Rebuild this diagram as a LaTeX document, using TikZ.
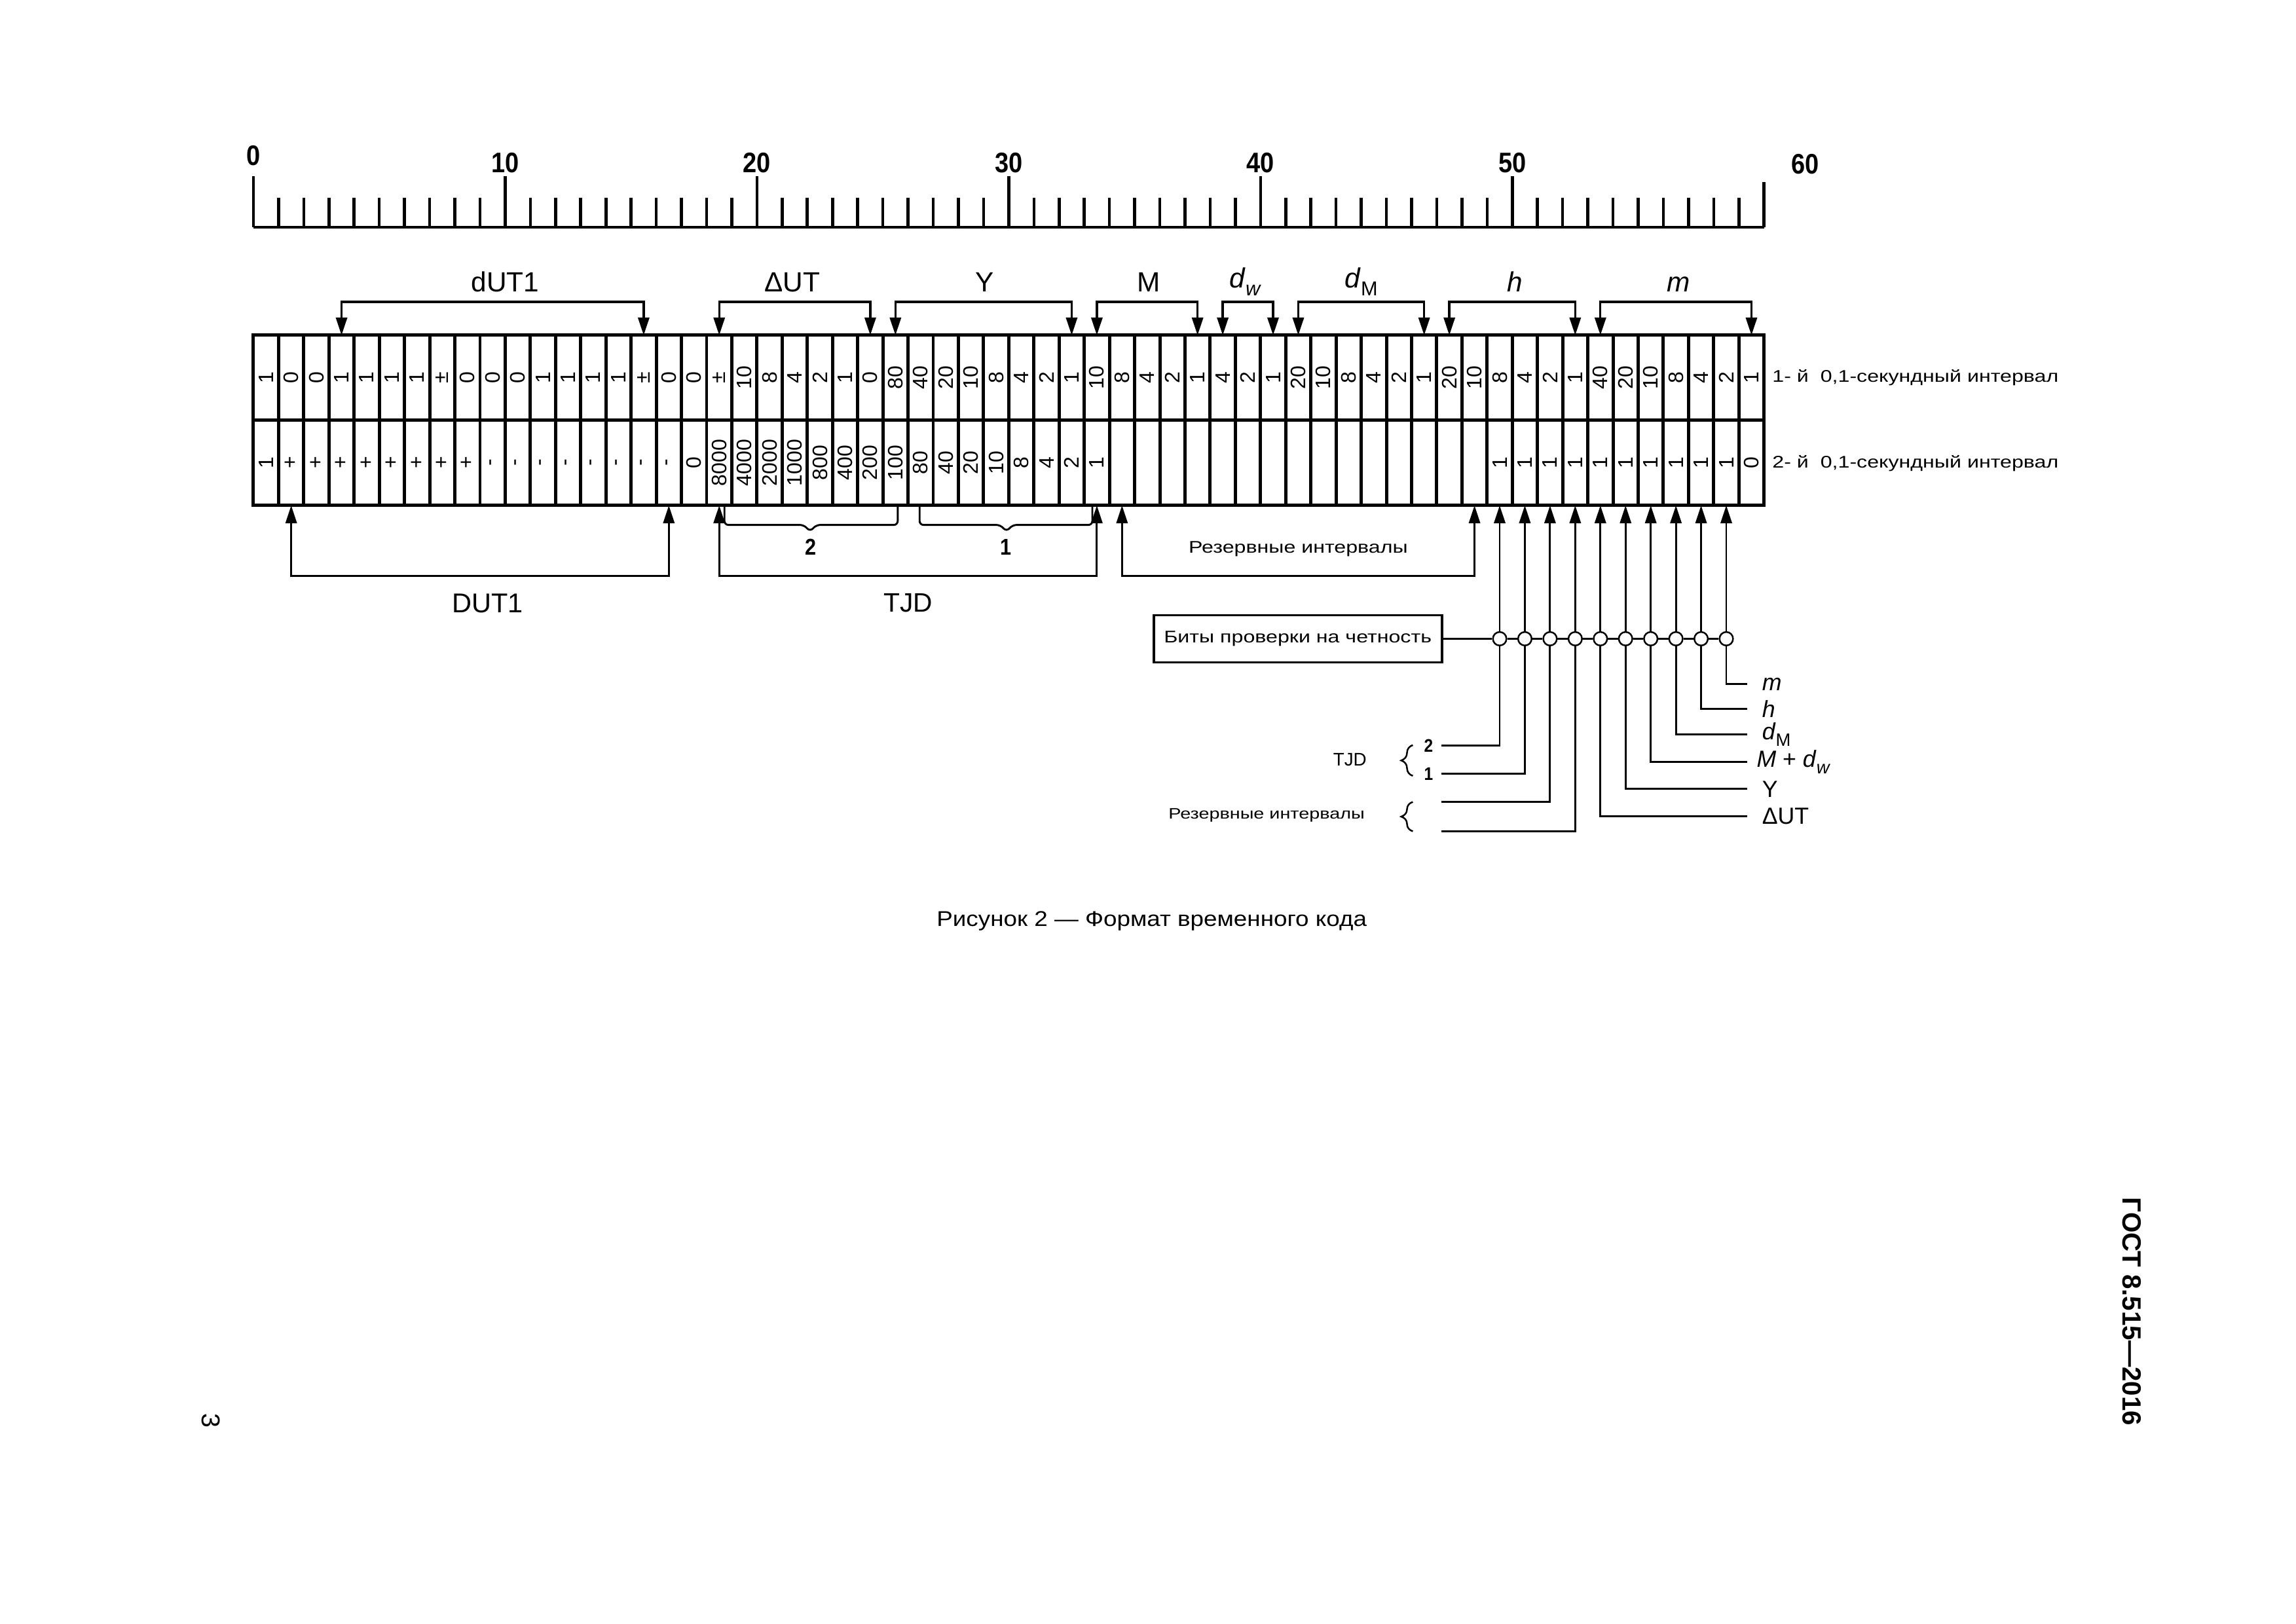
\documentclass[tikz,border=0pt]{standalone}
\usepackage{fontspec}
\setmainfont{Liberation Sans}
\newfontfamily\widefont[FakeStretch=1.25]{Liberation Sans}
\newfontfamily\capfont[FakeStretch=1.13]{Liberation Sans}
\newfontfamily\narrowfont[FakeStretch=0.88]{Liberation Sans}
\usetikzlibrary{positioning,arrows.meta,decorations.pathreplacing}
\newcommand{\setfs}[1]{\fontsize{#1}{#1}\selectfont}
\newcommand{\lowsub}[2]{\raisebox{-0.55ex}{\setfs{#1}#2}}

\begin{document}
\begin{tikzpicture}[x=3.2555mm,y=-1mm,
		>={Triangle[length=2.3mm,width=1.45mm]},
		tbl/.style={line width=1.2pt},
		brk/.style={line width=0.8pt,<->},
		lowbrk/.style={line width=0.7pt,<->},
		cell/.style={rotate=90,font=\setfs{7.7}},
		lbl/.style={anchor=base,font=\setfs{10.2}},
		tick/.style={line width=1.1pt},
		num/.style={anchor=south,font=\narrowfont\bfseries\setfs{10.4}},
		ring/.style={circle,draw,fill=white,line width=0.6pt,minimum size=1.75mm},
		lead/.style={line width=0.7pt},
		wide/.style={font=\widefont\setfs{6.2}}]
		\tikzstyle{every node}+=[inner sep=0pt]
		\useasboundingbox (-10.066,0) rectangle (81.13,210);
		\draw [tick] (0,29.4) -- (60,29.4);
		\foreach \i in {1,...,59}
			\draw [tick] (\i,29.4) -- (\i,25.6);
		\foreach \i in {0,10,...,50}
			\draw [tick] (\i,29.4) -- (\i,22.8);
		\draw [tick] (60,29.4) -- (60,23.5);
		\node [num] (s0) at (0,21.5) {0};
		\foreach \n in {10,20,...,50}
			\node [num] (s\n) at (\n,22.4) {\n};
		\node [num] (s60) at (61.64,22.6) {60};
		\coordinate (top) at (0,43.35);
		\coordinate (mid) at (0,54.31);
		\coordinate (bot) at (0,65.36);
		\draw [tbl] (top) rectangle (60,65.36);
		\draw [tbl] (mid) -- (60,54.31);
		\foreach \i in {1,...,59}
			\draw [tbl] (\i,43.35) -- (\i,65.36);
		\foreach \v [count=\i] in {1,0,0,1,1,1,1,±,0,0,0,1,1,1,1,±,0,0,±,10,8,4,2,1,0,80,40,20,10,8,4,2,1,10,8,4,2,1,4,2,1,20,10,8,4,2,1,20,10,8,4,2,1,40,20,10,8,4,2,1}
			\node [cell] (a\i) at (\i-0.5,48.83) {\v};
		\foreach \v [count=\i] in {1,+,+,+,+,+,+,+,+,-,-,-,-,-,-,-,-,0,8000,4000,2000,1000,800,400,200,100,80,40,20,10,8,4,2,1}
			\node [cell] (b\i) at (\i-0.5,59.84) {\v};
		\foreach \v [count=\i from 50] in {1,1,1,1,1,1,1,1,1,1,0}
			\node [cell] (b\i) at (\i-0.5,59.84) {\v};
		\node [wide,anchor=west] (row1) at (60.31,48.83) {1- й~~0,1-секундный интервал};
		\node [wide,anchor=west] (row2) at (60.31,59.9) {2- й~~0,1-секундный интервал};
		\draw [brk] (a4 |- top) -- ++(0,-4.32) -| (a16 |- top);
		\node [lbl] (tdut) at (10,37.7) {dUT1};
		\draw [brk] (a19 |- top) -- ++(0,-4.32) -| (a25 |- top);
		\node [lbl] (tdelta) at (21.4,37.7) {ΔUT};
		\draw [brk] (a26 |- top) -- ++(0,-4.32) -| (a33 |- top);
		\node [lbl] (tyear) at (29.05,37.7) {Y};
		\draw [brk] (a34 |- top) -- ++(0,-4.32) -| (a38 |- top);
		\node [lbl] (tmonth) at (35.55,37.7) {M};
		\draw [brk] (a39 |- top) -- ++(0,-4.32) -| (a41 |- top);
		\node [lbl] (tdw) at (39.4,37.2) {\textit{d}\lowsub{7.4}{\textit{w}}};
		\draw [brk] (a42 |- top) -- ++(0,-4.32) -| (a47 |- top);
		\node [lbl] (tdm) at (44.0,37.2) {\textit{d}\lowsub{7.4}{M}};
		\draw [brk] (a48 |- top) -- ++(0,-4.32) -| (a53 |- top);
		\node [lbl] (thour) at (50.1,37.7) {\textit{h}};
		\draw [brk] (a54 |- top) -- ++(0,-4.32) -| (a60 |- top);
		\node [lbl] (tmin) at (56.6,37.7) {\textit{m}};
		\draw [lowbrk] (a2 |- bot) -- ++(0,9.14) -| (a17 |- bot);
		\node [font=\setfs{10}] (dut) at (9.3,78) {DUT1};
		\draw [lowbrk] (a19 |- bot) -- ++(0,9.14) -| (a34 |- bot);
		\node [font=\setfs{9.8}] (tjd) at (26,78) {TJD};
		\draw [lowbrk] (a35 |- bot) -- ++(0,9.14) -| (a49 |- bot);
		\node [wide] (res) at (41.5,71.0) {Резервные интервалы};
		\draw [line width=0.7pt,rounded corners=0.5mm] (18.71,65.36) |- (21.86,67.88) -- (22.11,68.72) -- (22.36,67.88) -| (25.59,65.36);
		\node [font=\narrowfont\bfseries\setfs{8.4}] (br2) at (22.13,70.74) {2};
		\draw [line width=0.7pt,rounded corners=0.5mm] (26.46,65.36) |- (29.66,67.88) -- (29.91,68.72) -- (30.16,67.88) -| (33.32,65.36);
		\node [font=\narrowfont\bfseries\setfs{8.4}] (br1) at (29.9,70.74) {1};
		\node [wide,draw,line width=0.9pt,minimum width=37.25mm,minimum height=6.1mm] (par) at (41.48,82.6) {Биты проверки на четность};
		\foreach \i in {50,...,59}
			\node [ring] (c\i) at (a\i |- par) {};
		\draw [lead] (par) -- (c50);
		\foreach \i [evaluate=\i as \j using int(\i+1)] in {50,...,58}
			\draw [lead] (c\i) -- (c\j);
		\foreach \i in {50,...,59}
			\draw [lead,->] (c\i) -- (c\i |- bot);
		\foreach \i/\y in {50/96.43,51/100.08,52/103.72,53/107.53} {
			\coordinate (e\i) at (47.18,\y);
			\draw [lead] (c\i) |- (e\i);
		}
		\foreach \i/\y in {54/105.58,55/102.02,56/98.55,57/95.0,58/91.69,59/88.48} {
			\coordinate (e\i) at (59.32,\y);
			\draw [lead] (c\i) |- (e\i);
		}
		\node [right=1.9mm of e59,font=\setfs{8.6}] (lmin) {\textit{m}};
		\node [right=1.9mm of e58,font=\setfs{8.6}] (lhour) {\textit{h}};
		\node [right=1.9mm of e57,font=\setfs{8.6}] (ldm) {\textit{d}\lowsub{6.6}{M}};
		\node [right=1.2mm of e56,font=\setfs{8.6}] (lmdw) {\textit{M} + \textit{d}\lowsub{6.6}{\textit{w}}};
		\node [right=1.9mm of e55,font=\setfs{8.6}] (lyear) {Y};
		\node [right=1.9mm of e54,font=\setfs{8.6}] (ldelta) {ΔUT};
		\node [left=1mm of e50,font=\narrowfont\bfseries\setfs{6.7}] (l2) {2};
		\node [left=1mm of e51,font=\narrowfont\bfseries\setfs{6.7}] (l1) {1};
		\draw [decorate,decoration={brace,amplitude=1.5mm},line width=0.6pt] (46.05,100.33) -- (46.05,96.35);
		\node [font=\setfs{6.7}] (ltjd) at (43.55,98.2) {TJD};
		\draw [decorate,decoration={brace,amplitude=1.5mm},line width=0.6pt] (46.05,107.5) -- (46.05,103.7);
		\node [anchor=east,font=\widefont\setfs{5.55}] (lres) at (44.16,105.4) {Резервные интервалы};
		\node [anchor=base,font=\capfont\setfs{7.85}] (cap) at (35.68,119.8) {Рисунок 2 — Формат временного кода};
		\node [rotate=-90,font=\bfseries\setfs{9.7}] (gost) at (74.62,169.6) {ГОСТ 8.515—2016};
		\node [rotate=-90,font=\setfs{9.5}] (page) at (-1.69,183.7) {3};
\end{tikzpicture}
\end{document}
